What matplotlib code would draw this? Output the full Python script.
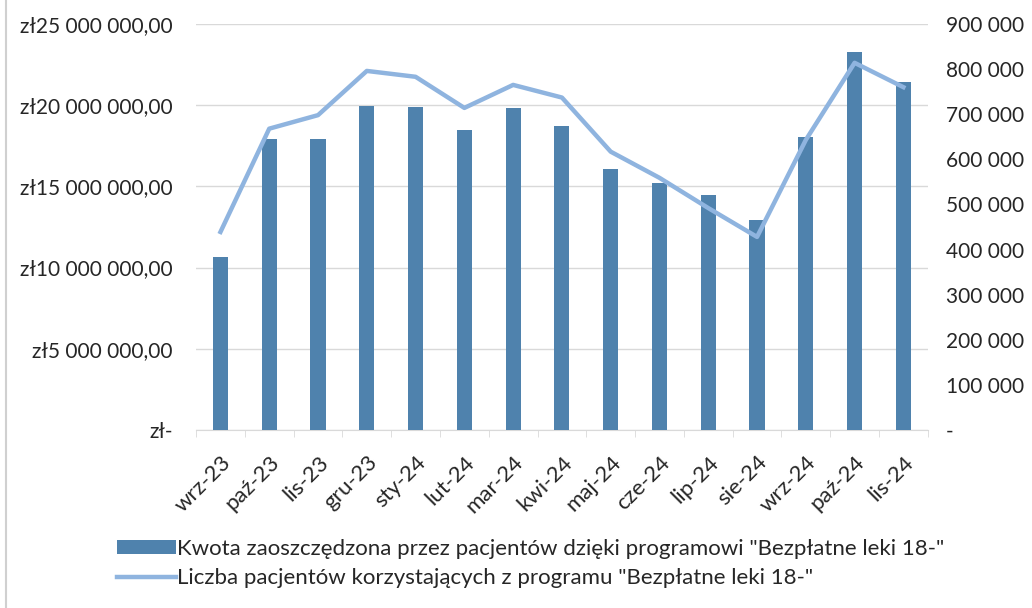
import matplotlib
matplotlib.use("Agg")
import matplotlib.pyplot as plt
from matplotlib.lines import Line2D
from matplotlib.patches import Patch

plt.rcParams['font.family'] = ['Lato', 'DejaVu Sans']

months = ["wrz-23", "paź-23", "lis-23", "gru-23", "sty-24", "lut-24", "mar-24",
          "kwi-24", "maj-24", "cze-24", "lip-24", "sie-24", "wrz-24", "paź-24", "lis-24"]
savings = [10.65e6, 17.9e6, 17.9e6, 19.95e6, 19.9e6, 18.5e6, 19.8e6, 18.7e6,
           16.07e6, 15.2e6, 14.47e6, 12.93e6, 18.04e6, 23.3e6, 21.4e6]
patients = [439000, 668000, 698000, 796000, 783000, 714000, 765000, 737000,
            617000, 559000, 492000, 428000, 643000, 814000, 760000]
left_ticks = [0, 5e6, 10e6, 15e6, 20e6, 25e6]
left_labels = ["zł-", "zł5 000 000,00", "zł10 000 000,00", "zł15 000 000,00",
               "zł20 000 000,00", "zł25 000 000,00"]
right_ticks = [0, 100000, 200000, 300000, 400000, 500000, 600000, 700000, 800000, 900000]
right_labels = ["-", "100 000", "200 000", "300 000", "400 000", "500 000",
                "600 000", "700 000", "800 000", "900 000"]
legend_labels = ['Kwota zaoszczędzona przez pacjentów dzięki programowi "Bezpłatne leki 18-"',
                 'Liczba pacjentów korzystających z programu "Bezpłatne leki 18-"']

bar_color = "#4f82ad"
line_color = "#8fb4df"
text_color = "#262626"
fs = 15

fig = plt.figure(figsize=(10.32, 6.08), dpi=100)
ax = fig.add_axes([0.19, 0.2928, 0.709, 0.6677])
x = list(range(len(months)))
ax.bar(x, savings, width=0.31, color=bar_color, zorder=3)
ax.set_xlim(-0.5, len(months) - 0.5)
ax.set_ylim(0, 25e6)
ax.set_yticks(left_ticks)
ax.set_yticklabels(left_labels)
ax.grid(axis='y', color='#d9d9d9', linewidth=1, zorder=0)
for s in ['top', 'right', 'left']:
    ax.spines[s].set_visible(False)
ax.spines['bottom'].set_color('#d9d9d9')
ax.tick_params(axis='y', length=0, labelsize=fs, colors=text_color, pad=17)
ax.set_xticks(x)
ax.set_xticklabels(months, rotation=45, ha='right', rotation_mode='anchor')
ax.tick_params(axis='x', length=0, labelsize=16, colors=text_color, pad=16)
ax.set_xticks([i - 0.5 for i in range(len(months) + 1)], minor=True)
ax.tick_params(axis='x', which='minor', length=5, color='#d9d9d9')

ax2 = ax.twinx()
ax2.plot(x, patients, color=line_color, linewidth=3.2, zorder=4, solid_joinstyle='round')
ax2.set_ylim(0, 900000)
ax2.set_yticks(right_ticks)
ax2.set_yticklabels(right_labels)
for s in ['top', 'right', 'left', 'bottom']:
    ax2.spines[s].set_visible(False)
ax2.tick_params(axis='y', length=0, labelsize=fs, colors=text_color, pad=13)

handles = [Patch(facecolor=bar_color, edgecolor='none'),
           Line2D([0], [0], color=line_color, linewidth=3.2)]
fig.legend(handles, legend_labels, loc='upper left', bbox_to_anchor=(0.105, 0.128),
           frameon=False, fontsize=16, labelcolor=text_color, handlelength=2.65,
           handleheight=0.6, handletextpad=0.05, labelspacing=0.42, borderaxespad=0)

fig.add_artist(Line2D([0.006, 0.006], [0, 1], color='#d0d0d0', linewidth=1.5, transform=fig.transFigure))
fig.savefig("out.png", dpi=100, facecolor='white')
